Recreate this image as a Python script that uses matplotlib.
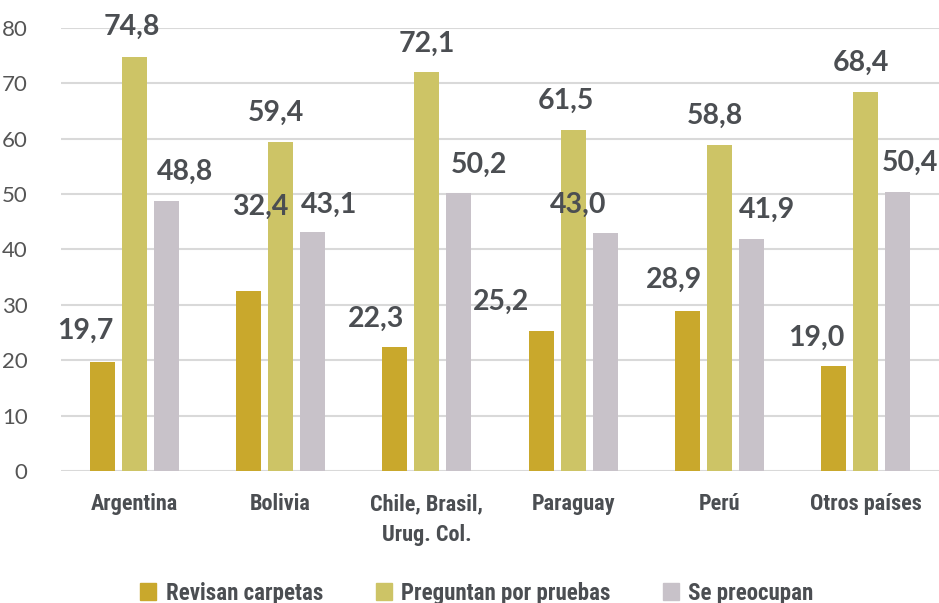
import numpy as np
import matplotlib
matplotlib.use("Agg")
from matplotlib import pyplot as plt
from matplotlib.patches import Patch

# data
paises = ["Argentina", "Bolivia", "Chile, Brasil,\nUrug. Col.", "Paraguay", "Perú", "Otros países"]
revisan = [19.7, 32.4, 22.3, 25.2, 28.9, 19.0]
preguntan = [74.8, 59.4, 72.1, 61.5, 58.8, 68.4]
preocupan = [48.8, 43.1, 50.2, 43.0, 41.9, 50.4]
series_names = ["Revisan carpetas", "Preguntan por pruebas", "Se preocupan"]

# hand-placed label offsets (pixels, relative to bar top centre)
label_dx = [[-17, -2, 19], [12, -5, 17], [-19, 0, 20],
            [-40, -7, -27], [-14, -5, 16], [-18, -5, 12]]
label_dy = [[31, 30, 29], [85, 29, 27], [29, 28, 28],
            [29, 29, 28], [31, 29, 29], [28, 29, 29]]

colors = ["#C9A82C", "#CDC466", "#C8C2C9"]
txt_color = "#4B4E52"
cond_font = ["Roboto Condensed", "DejaVu Sans"]

fig = plt.figure(figsize=(9.39, 6.03), dpi=100)
ax = fig.add_axes([0.065, 0.219, 0.935, 0.735])

x = np.arange(len(paises))
width = 0.171
pitch = 0.218
values = [revisan, preguntan, preocupan]
for s in range(3):
    pos = x + (s - 1) * pitch
    ax.bar(pos, values[s], width, color=colors[s], zorder=3)
    for i, v in enumerate(values[s]):
        ax.annotate(f"{v:.1f}".replace(".", ","), (pos[i], v),
                    xytext=(label_dx[i][s], label_dy[i][s]),
                    textcoords="offset pixels", ha="center", va="center",
                    fontsize=20.5, fontweight="bold", family="Lato",
                    color=txt_color, annotation_clip=False, zorder=5)

ax.set_xlim(-0.5, len(paises) - 0.5)
ax.set_ylim(0, 80)
ax.set_yticks(range(0, 81, 10))
ax.grid(axis="y", color="#D9D9D9", linewidth=1.5, zorder=0)
for sp in ax.spines.values():
    sp.set_visible(False)
ax.tick_params(axis="both", length=0)
ax.tick_params(axis="y", pad=24, labelsize=16, labelcolor="#555555")
for lab in ax.get_yticklabels():
    lab.set_family("Lato")
    lab.set_ha("right")
ax.set_xticks(x)
ax.set_xticklabels(paises, fontsize=16, fontweight="bold", family=cond_font,
                   color=txt_color, linespacing=1.5)
ax.tick_params(axis="x", pad=16)

handles = [Patch(color=c) for c in colors]
fig.legend(handles, series_names, loc="lower center", bbox_to_anchor=(0.508, -0.037),
           ncol=3, frameon=False, handlelength=0.7, handleheight=0.75,
           handletextpad=0.4, columnspacing=2.3,
           prop={"family": cond_font, "weight": "bold", "size": 16.5},
           labelcolor=txt_color)

fig.savefig("out.png", dpi=100)
